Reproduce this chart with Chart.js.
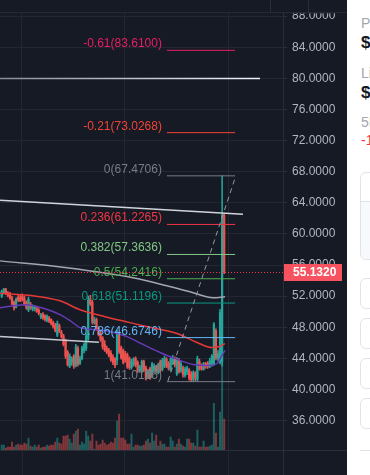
<!DOCTYPE html>
<html lang="en">
<head>
<meta charset="UTF-8" />
<script src="https://cdn.jsdelivr.net/npm/chart.js"></script>
<style>
  html, body { margin: 0; padding: 0; background: #161a25; overflow: hidden; }
  .wrap { display: flex; width: 370px; height: 475px; }
  .chart { width: 347px; height: 475px; }
  .side { position: relative; width: 23px; height: 475px; background: #fff; overflow: hidden;
          font-family: "Liberation Sans", Arial, sans-serif; white-space: nowrap; }
  .side div { position: absolute; left: 13px; }
  .side .txt { left: 14px; }
  .lbl { color: #a3a6af; font-size: 14px; }
  .val { color: #131722; font-size: 17px; font-weight: bold; }
  .neg { color: #f23645; font-size: 14px; }
  .box { width: 60px; border: 1px solid #e0e3eb; border-radius: 6px; box-sizing: border-box; }
  .box .low { position: absolute; left: 0; right: 0; top: 28px; bottom: 0; background: #f8f9fd;
              border-top: 1px solid #e0e3eb; border-radius: 0 0 6px 6px; }
</style>
</head>
<body>
<div class="wrap">
  <div class="chart"><canvas id="grafico" width="347" height="475"></canvas></div>
  <div class="side">
    <div class="lbl txt" style="top:15px">Price USD</div>
    <div class="val txt" style="top:33px">$55.13</div>
    <div class="lbl txt" style="top:65px">Liquidity</div>
    <div class="val txt" style="top:83px">$2.41M</div>
    <div class="lbl txt" style="top:114px">5M Change</div>
    <div class="neg txt" style="top:132px">-11.65%</div>
    <div class="box" style="top:172px;height:88px"><div class="low"></div></div>
    <div class="box" style="top:278px;height:31px"></div>
    <div class="box" style="top:318px;height:31px"></div>
    <div class="box" style="top:358px;height:31px"></div>
    <div class="box" style="top:398px;height:31px"></div>
    <div style="top:450px;width:60px;height:1px;background:#e0e3eb"></div>
  </div>
</div>

<script>
  // candles (one per bar, oldest first)
  const opens = [52.0, 52.5, 52.9, 52.4, 52.2, 51.8, 51.2, 50.6, 51.9, 51.8, 52.0, 51.8, 51.2, 50.2, 51.0, 50.3, 50.4, 50.5, 50.2, 49.3,
    49.7, 49.5, 48.9, 49.2, 49.0, 48.6, 48.3, 47.0, 48.2, 47.4, 46.9, 46.3, 44.8, 43.0, 43.5, 44.3, 43.1, 45.3, 43.4, 44.0,
    45.0, 45.3, 46.5, 51.7, 51.2, 48.6, 49.0, 47.9, 47.3, 46.6, 45.8, 45.3, 45.0, 44.7, 44.2, 43.9, 43.8, 47.2, 45.4, 45.0,
    44.6, 44.5, 44.0, 42.8, 43.2, 44.0, 43.5, 42.4, 42.3, 43.6, 42.8, 41.6, 42.7, 41.7, 42.5, 43.0, 42.2, 43.6, 42.6, 43.0,
    43.9, 43.4, 42.6, 43.5, 44.0, 42.0, 43.8, 42.4, 42.8, 41.8, 42.2, 42.5, 42.0, 41.3, 42.1, 41.3, 43.6, 43.1, 42.6, 43.3,
    43.4, 42.9, 43.1, 43.3, 47.5, 43.9, 43.5, 43.6, 62.4];
  const highs = [52.8, 53.0, 53.0, 52.6, 52.5, 52.0, 51.4, 51.8, 52.2, 52.1, 52.3, 52.0, 51.4, 51.9, 51.2, 50.9, 50.8, 50.7, 50.4, 49.8,
    49.9, 49.6, 49.6, 49.4, 49.1, 48.8, 48.5, 48.8, 48.4, 47.6, 47.1, 46.5, 45.0, 44.6, 44.2, 44.5, 45.8, 45.6, 44.3, 45.6,
    46.0, 47.2, 52.0, 52.1, 51.5, 49.3, 49.2, 48.1, 47.5, 46.8, 46.3, 45.6, 45.3, 45.0, 44.5, 44.1, 47.6, 47.4, 45.6, 45.2,
    44.9, 44.7, 44.2, 43.9, 44.1, 44.2, 43.7, 43.1, 43.8, 43.8, 43.0, 42.6, 42.9, 43.5, 43.3, 43.1, 43.4, 43.8, 44.0, 44.3,
    44.1, 43.6, 44.1, 44.4, 44.2, 44.1, 44.0, 43.6, 43.0, 42.9, 43.0, 42.7, 42.3, 42.4, 42.3, 44.3, 43.9, 43.3, 43.5, 43.5,
    43.6, 44.0, 44.5, 48.6, 47.8, 45.0, 50.3, 67.4706, 62.6];
  const lows = [51.8, 52.3, 52.2, 51.9, 51.6, 50.9, 50.2, 50.5, 51.3, 51.3, 51.4, 50.8, 50.3, 50.0, 50.3, 50.1, 50.1, 49.9, 49.6, 49.1,
    49.0, 48.8, 48.7, 48.6, 48.3, 47.9, 47.4, 46.8, 47.3, 46.6, 45.6, 44.0, 43.0, 42.8, 43.1, 42.7, 42.9, 43.0, 43.2, 43.8,
    44.7, 45.0, 46.3, 50.8, 48.4, 48.4, 47.6, 46.9, 46.2, 45.2, 44.9, 44.6, 44.2, 43.6, 43.2, 42.8, 43.2, 44.6, 43.9, 43.3,
    43.5, 42.7, 42.6, 42.6, 43.0, 42.9, 42.2, 42.2, 42.1, 42.3, 41.2, 41.4, 41.3, 41.5, 42.2, 42.1, 42.0, 42.2, 42.4, 42.8,
    42.8, 42.5, 42.4, 43.2, 42.9, 41.8, 42.1, 42.2, 41.6, 41.6, 41.9, 41.2, 41.0126, 41.0, 41.1, 41.1, 42.5, 42.5, 42.5, 42.7,
    42.7, 42.8, 43.0, 43.1, 43.8, 43.7, 43.3, 43.0, 54.9];
  const closes = [52.6, 52.9, 52.4, 52.1, 51.8, 51.0, 50.5, 51.6, 51.5, 51.4, 51.6, 51.0, 50.5, 51.6, 50.5, 50.7, 50.6, 50.0, 49.8, 49.6,
    49.2, 49.0, 49.4, 48.8, 48.5, 48.1, 47.6, 48.5, 47.5, 46.8, 45.8, 44.3, 43.2, 44.3, 44.0, 43.0, 45.5, 43.3, 44.0, 45.4,
    45.8, 46.9, 51.5, 51.0, 48.7, 49.0, 47.8, 47.1, 46.4, 45.5, 45.1, 44.8, 44.4, 43.8, 43.5, 43.1, 47.3, 44.9, 44.1, 43.5,
    43.8, 42.9, 42.8, 43.6, 43.9, 43.2, 42.4, 42.9, 43.6, 42.6, 41.4, 42.3, 41.5, 43.3, 43.0, 42.3, 43.2, 42.5, 43.8, 44.0,
    43.0, 42.7, 43.9, 44.1, 43.2, 43.9, 42.3, 43.3, 41.9, 42.6, 42.8, 41.5, 41.3, 42.2, 41.5, 44.0, 42.7, 42.6, 43.3, 42.9,
    42.9, 43.7, 44.3, 48.4, 44.1, 44.6, 49.9, 62.4, 55.132];
  // volume, K
  const volumes = [5, 5, 2, 3, 3, 8, 3, 5, 6, 5, 5, 7, 6, 12, 4, 3, 5, 3, 5, 2,
    3, 3, 5, 4, 5, 5, 8, 12, 7, 6, 14, 14, 15, 11, 7, 16, 19, 21, 5, 8,
    6, 19, 14, 9, 16, 1, 9, 5, 6, 10, 7, 5, 6, 8, 7, 12, 29, 36, 12, 12,
    10, 6, 6, 16, 3, 5, 5, 4, 4, 5, 9, 11, 7, 17, 9, 15, 4, 9, 6, 6,
    3, 3, 13, 9, 3, 6, 11, 6, 4, 3, 11, 11, 7, 7, 4, 20, 3, 3, 9, 3,
    3, 4, 5, 47, 17, 3, 38, 90, 31];

  // moving averages (bar index, price)
  const grayMaIdx = [-0.8, 31.7, 63.7, 80.2, 92.9, 102.6, 108.4];
  const grayMa = [56.54, 55.65, 54.37, 53.33, 52.44, 51.8, 51.93];
  const redMaIdx = [-0.8, 15.2, 28.3, 38.0, 50.2, 62.3, 68.6, 85.1, 94.8, 102.1, 105.5, 108.4];
  const redMa = [52.38, 52.05, 51.41, 50.26, 49.36, 48.6, 48.2, 47.2, 46.05, 45.4, 45.53, 45.9];
  const purpleMaIdx = [-0.8, 11.3, 21.0, 28.3, 33.2, 38.0, 45.3, 52.6, 60.8, 68.6, 76.9, 85.1, 92.9, 101.1, 104.5, 106.9, 108.4];
  const purpleMa = [50.52, 50.9, 50.39, 49.62, 48.86, 47.96, 47.7, 47.45, 46.8, 45.8, 44.76, 43.87, 43.23, 43.1, 43.35, 44.38, 45.02];

  // drawn lines
  const levelLineIdx = [-0.8, 125.4];
  const levelLine = [80, 80];
  const upperTrendIdx = [-0.8, 117.1];
  const upperTrend = [64.33, 62.54];
  const lowerTrendIdx = [-0.8, 47.2];
  const lowerTrend = [46.81, 46.08];
  const dashIdx = [80.7, 113.3];
  const dashLine = [41.1, 67.2];

  // fib retracement
  const fibIdx = [80.2, 113.3];
  const fibRatios = ["-0.61", "-0.21", "0", "0.236", "0.382", "0.5", "0.618", "0.786", "1"];
  const fibValues = [83.61, 73.0268, 67.4706, 61.2265, 57.3636, 54.2416, 51.1196, 46.6746, 41.0126];
  const fibColors = ["#e91e63", "#f44336", "#787b86", "#f23645", "#81c784", "#4caf50", "#089981", "#64b5f6", "#787b86"];

  const tickValues = [36, 40, 44, 48, 52, 56, 60, 64, 68, 72, 76, 80, 84, 88];
  const timeGridIdx = [9.85, 59.4, 109.9];
  const lastPrice = 55.132;

  const UP = "#26a69a";
  const DOWN = "#ef5350";
  const GRID = "#232733";
  const LINE = "#2a2e39";
  const BG = "#161a25";

  Chart.defaults.font.family = '"Liberation Sans", Arial, sans-serif';
  Chart.defaults.font.size = 12;

  function pontos(xs, ys) {
    return xs.map(function (v, k) { return { x: v, y: ys[k] }; });
  }
  function sobe(i) { return closes[i] >= opens[i]; }
  // gray on the left fading to white on the right
  function degrade(c) {
    const a = c.chart.chartArea;
    if (!a) return "#c8cad2";
    const g = c.chart.ctx.createLinearGradient(a.left, 0, a.left + 260, 0);
    g.addColorStop(0, "#8a8d96");
    g.addColorStop(1, "#f0f3fa");
    return g;
  }

  let datasets = [
    {
      type: "bar", yAxisID: "yv", order: 20, grouped: false, barThickness: 1.3,
      data: volumes.map(function (v, i) { return { x: i, y: v }; }),
      backgroundColor: function (c) { return sobe(c.dataIndex) ? "rgba(38,166,154,0.5)" : "rgba(239,83,80,0.5)"; }
    },
    {
      type: "bar", yAxisID: "y", order: 12, grouped: false, barThickness: 0.9,
      data: lows.map(function (v, i) { return { x: i, y: [v, highs[i]] }; }),
      backgroundColor: function (c) { return sobe(c.dataIndex) ? UP : DOWN; }
    },
    {
      type: "bar", yAxisID: "y", order: 11, grouped: false, barThickness: 1.6,
      data: opens.map(function (v, i) { return { x: i, y: [v, closes[i]] }; }),
      backgroundColor: function (c) { return sobe(c.dataIndex) ? UP : DOWN; }
    },
    { type: "line", order: 6, data: pontos(grayMaIdx, grayMa), borderColor: "#a3a6af", borderWidth: 1.5, cubicInterpolationMode: "monotone" },
    { type: "line", order: 5, data: pontos(redMaIdx, redMa), borderColor: "#e53935", borderWidth: 1.5, cubicInterpolationMode: "monotone" },
    { type: "line", order: 5, data: pontos(purpleMaIdx, purpleMa), borderColor: "#673ab7", borderWidth: 1.5, cubicInterpolationMode: "monotone" },
    { type: "line", order: 3, data: pontos(levelLineIdx, levelLine), borderColor: degrade, borderWidth: 1.5 },
    { type: "line", order: 3, data: pontos(upperTrendIdx, upperTrend), borderColor: "#d1d4dc", borderWidth: 1.5 },
    { type: "line", order: 3, data: pontos(lowerTrendIdx, lowerTrend), borderColor: "#c8cad2", borderWidth: 1.5 },
    { type: "line", order: 1, data: pontos(dashIdx, dashLine), borderColor: "#9598a1", borderWidth: 1, borderDash: [5, 4] }
  ];
  fibValues.forEach(function (v, k) {
    datasets.push({ type: "line", order: 2, data: pontos(fibIdx, [v, v]), borderColor: fibColors[k], borderWidth: 1 });
  });
  datasets.forEach(function (d) { if (d.type === "line") d.pointRadius = 0; });

  const extras = {
    id: "extras",
    afterDatasetsDraw(chart) {
      const { ctx, chartArea: a, scales } = chart;
      const x = scales.x, y = scales.y;
      ctx.save();
      // fib labels
      ctx.font = '12px "Liberation Sans", Arial, sans-serif';
      ctx.textAlign = "right";
      ctx.textBaseline = "alphabetic";
      const x0 = x.getPixelForValue(fibIdx[0]) - 5;
      fibValues.forEach(function (v, k) {
        ctx.fillStyle = fibColors[k];
        ctx.fillText(fibRatios[k] + "(" + v.toFixed(4) + ")", x0, y.getPixelForValue(v) - 3);
      });
      // last price dotted line
      const py = Math.round(y.getPixelForValue(lastPrice)) + 0.5;
      ctx.strokeStyle = "#f23645";
      ctx.lineWidth = 1;
      ctx.setLineDash([1, 2]);
      ctx.beginPath();
      ctx.moveTo(a.left, py);
      ctx.lineTo(a.right, py);
      ctx.stroke();
      ctx.restore();
    },
    afterDraw(chart) {
      const { ctx, chartArea: a, scales } = chart;
      const y = scales.y, x = scales.x;
      const W = chart.width, H = chart.height;
      ctx.save();
      // price label on axis
      const py = y.getPixelForValue(lastPrice);
      ctx.fillStyle = "#f7525f";
      ctx.fillRect(a.right, Math.round(py) - 8, 59, 17);
      ctx.fillStyle = "#ffffff";
      ctx.font = 'bold 12px "Liberation Sans", Arial, sans-serif';
      ctx.textBaseline = "middle";
      ctx.fillText(lastPrice.toFixed(4), a.right + 10, Math.round(py) + 0.5);
      // top toolbar strip
      ctx.fillStyle = BG;
      ctx.fillRect(0, 0, W, a.top + 1);
      ctx.strokeStyle = LINE;
      ctx.lineWidth = 1;
      ctx.beginPath();
      ctx.moveTo(0, a.top + 0.5); ctx.lineTo(W, a.top + 0.5);
      ctx.moveTo(270.5, 0); ctx.lineTo(270.5, a.top);
      ctx.moveTo(308.5, 0); ctx.lineTo(308.5, a.top);
      // pane borders
      ctx.moveTo(a.right + 0.5, a.top); ctx.lineTo(a.right + 0.5, H);
      ctx.moveTo(0, a.bottom + 0.5); ctx.lineTo(W, a.bottom + 0.5);
      ctx.stroke();
      // time grid through the bottom pane
      ctx.strokeStyle = GRID;
      ctx.beginPath();
      timeGridIdx.forEach(function (t) {
        const gx = Math.round(x.getPixelForValue(t)) + 0.5;
        ctx.moveTo(gx, a.bottom + 1); ctx.lineTo(gx, H);
      });
      ctx.stroke();
      ctx.restore();
    }
  };

  new Chart(document.getElementById("grafico"), {
    type: "bar",
    data: { datasets: datasets },
    options: {
      responsive: false,
      animation: false,
      devicePixelRatio: 1,
      layout: { padding: { top: 10, left: 0, right: 0, bottom: 0 } },
      plugins: { legend: { display: false }, tooltip: { enabled: false } },
      scales: {
        x: {
          type: "linear", position: "bottom", min: -0.825, max: 136.55, offset: false,
          afterBuildTicks: function (s) { s.ticks = timeGridIdx.map(function (v) { return { value: v }; }); },
          afterFit: function (s) { s.height = 25; },
          ticks: { display: false },
          grid: { color: GRID, drawTicks: false, offset: false },
          border: { display: false }
        },
        y: {
          position: "right", min: 32.224, max: 88.512,
          afterBuildTicks: function (s) { s.ticks = tickValues.map(function (v) { return { value: v }; }); },
          afterFit: function (s) { s.width = 64; },
          ticks: {
            color: "#b2b5be", padding: 5, font: { size: 12 },
            callback: function (v) { return Number(v).toFixed(4); }
          },
          grid: { color: GRID, tickLength: 4, tickColor: LINE },
          border: { display: true, color: LINE }
        },
        yv: { display: false, min: 0, max: 440 }
      }
    },
    plugins: [extras]
  });
</script>
</body>
</html>
